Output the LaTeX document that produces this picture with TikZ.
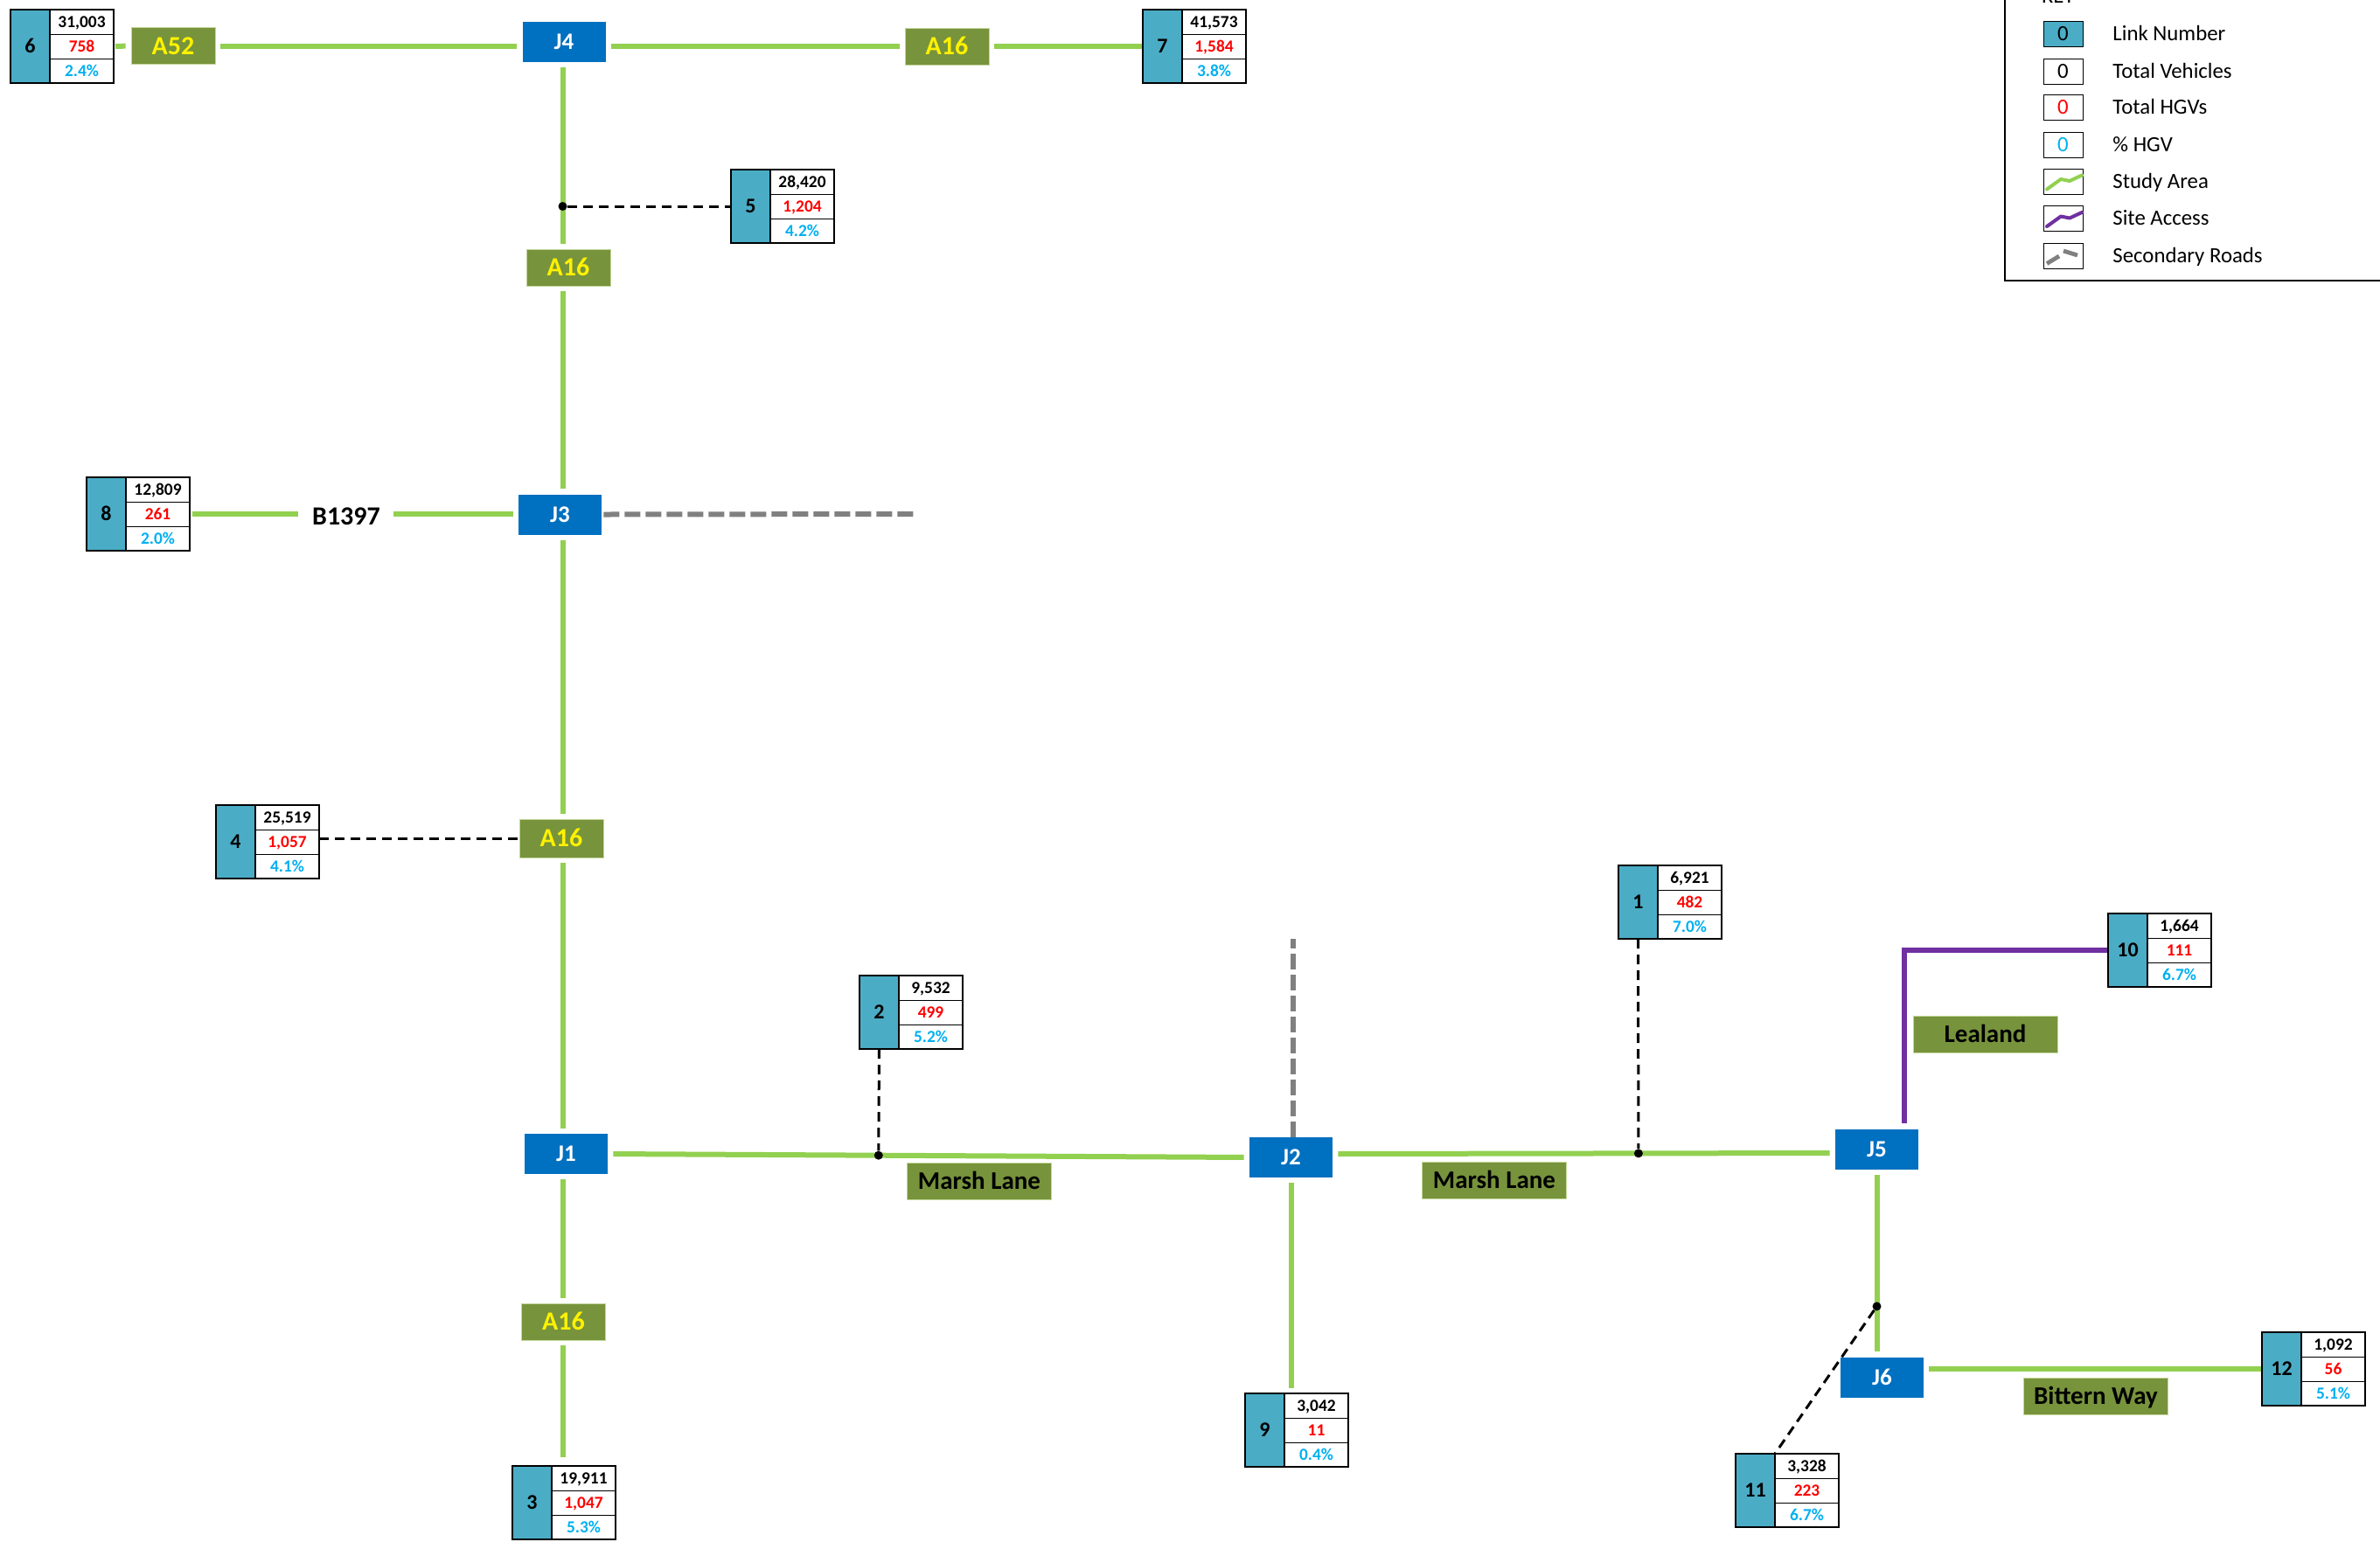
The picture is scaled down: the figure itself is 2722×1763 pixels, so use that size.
\documentclass[tikz,border=0pt]{standalone}
\usepackage{fontspec}
\setmainfont{Carlito}
\usetikzlibrary{calc}
\definecolor{linkblue}{HTML}{4BACC6}
\definecolor{jblue}{HTML}{0070C0}
\definecolor{labgreen}{HTML}{77933C}
\definecolor{roadgreen}{HTML}{92D050}
\definecolor{sitepurple}{HTML}{7030A0}
\definecolor{secgray}{HTML}{808080}
\definecolor{hgvred}{HTML}{FF0000}
\definecolor{pctblue}{HTML}{00B0F0}
\definecolor{labedge}{HTML}{C4D79B}
\newcommand\fsz[1]{\fontsize{#1}{#1}\selectfont}
\pgfdeclarelayer{bg}
\pgfsetlayers{bg,main}
\tikzset{
 lnk/.style={draw=black, line width=0.6pt, fill=linkblue, minimum width=22.5pt, minimum height=42pt, inner sep=0pt, outer sep=0pt, text height=7.6pt, text depth=0pt, font=\bfseries\fsz{12}},
 cell/.style={draw=black, line width=0.5pt, fill=white, minimum width=36.5pt, minimum height=14pt, inner sep=0pt, outer sep=0pt, text height=6.1pt, text depth=0pt, font=\bfseries\fsz{9.7}},
 junc/.style={fill=jblue, text=white, minimum width=47.5pt, minimum height=23pt, inner sep=0pt, text height=8.5pt, text depth=0pt, font=\bfseries\fsz{13.5}},
 alab/.style={fill=labgreen, draw=labedge, line width=0.4pt, text=yellow, minimum width=48pt, minimum height=21pt, inner sep=0pt, text height=9.5pt, text depth=0pt, font=\bfseries\fsz{15}},
 slab/.style={fill=labgreen, draw=labedge, line width=0.4pt, text=black, minimum width=82.5pt, minimum height=21pt, inner sep=0pt, text height=9.2pt, text depth=0pt, font=\bfseries\fsz{14.5}},
 road/.style={draw=roadgreen, line width=3pt, shorten <=3pt, shorten >=3pt},
 secroad/.style={draw=secgray, line width=3pt, dash pattern=on 9pt off 3pt},
 siteroad/.style={draw=sitepurple, line width=3pt},
 linkln/.style={draw=black, line width=1.5pt, dash pattern=on 5.5pt off 3.5pt},
 ldot/.style={circle, fill=black, inner sep=0pt, minimum size=5pt},
 keybox/.style={draw=black, line width=0.5pt, minimum width=22.5pt, minimum height=14.5pt, inner sep=0pt, text height=7.8pt, text depth=0pt, font=\fsz{12.4}},
 keytext/.style={anchor=west, inner sep=0pt, text height=7.8pt, text depth=0pt, font=\fsz{12.4}},
}
\newcommand\linkbox[7]{%
 \node[lnk, anchor=north west] (#1) at (#2,#3) {#4};
 \node[cell, anchor=north west] (#1t) at (#1.north east) {#5};
 \node[cell, anchor=north, text=hgvred] (#1h) at (#1t.south) {#6};
 \node[cell, anchor=north, text=pctblue] (#1p) at (#1h.south) {#7};
 \draw[line width=1pt] (#1.north west) rectangle (#1p.south east);
 \draw[line width=1pt] (#1.north east) -- (#1.south east);
}
\begin{document}
\begin{tikzpicture}[x=0.5pt, y=-0.5pt]
\useasboundingbox (0,0) rectangle (2722,1763);
\begin{pgfonlayer}{bg}
\fill[white] (0,0) rectangle (2722,1763);
\end{pgfonlayer}

% junctions
\node[junc] (J4) at (645,48) {J4};
\node[junc] (J3) at (640.5,588.5) {J3};
\node[junc] (J1) at (647.5,1320) {J1};
\node[junc] (J2) at (1476.5,1324) {J2};
\node[junc] (J5) at (2146.5,1315) {J5};
\node[junc] (J6) at (2152.5,1575.5) {J6};

% road labels
\node[alab] (a52) at (198,52.5) {A52};
\node[alab] (a16r) at (1083,53) {A16};
\node[alab] (a16u) at (650,306) {A16};
\node[alab, minimum height=22pt] (a16m) at (642,959) {A16};
\node[alab] (a16l) at (644.5,1512) {A16};
\node[slab] (ml1) at (1120,1351) {Marsh Lane};
\node[slab] (ml2) at (1709,1350) {Marsh Lane};
\node[slab] (lea) at (2270.5,1183) {Lealand};
\node[slab] (bit) at (2397,1597) {Bittern Way};
\node[font=\bfseries\fsz{15}, inner sep=0pt, text height=9.5pt, text depth=0pt] (b1397) at (396,591) {B1397};

% link boxes
\linkbox{b6}{12}{11}{6}{31,003}{758}{2.4\%}
\linkbox{b7}{1307}{11}{7}{41,573}{1,584}{3.8\%}
\linkbox{b5}{836}{194}{5}{28,420}{1,204}{4.2\%}
\linkbox{b8}{99}{546}{8}{12,809}{261}{2.0\%}
\linkbox{b4}{247}{921}{4}{25,519}{1,057}{4.1\%}
\linkbox{b3}{586}{1677}{3}{19,911}{1,047}{5.3\%}
\linkbox{b2}{983}{1116}{2}{9,532}{499}{5.2\%}
\linkbox{b9}{1424}{1594}{9}{3,042}{11}{0.4\%}
\linkbox{b1}{1851}{990}{1}{6,921}{482}{7.0\%}
\linkbox{b10}{2411}{1045}{10}{1,664}{111}{6.7\%}
\linkbox{b11}{1985}{1663}{11}{3,328}{223}{6.7\%}
\linkbox{b12}{2587}{1524}{12}{1,092}{56}{5.1\%}

\coordinate (ax) at (643.5,0);
\coordinate (g3) at (1049,588);
\coordinate (g2) at (1479,1074);

% dots
\node[ldot] (d5) at ($(J4.south -| ax)!(b5.west)!(a16u.north -| ax)$) {};
\node[ldot] (d2) at ($(J1.east)!(b2.south)!(J2.west)$) {};
\node[ldot] (d1) at ($([yshift=2pt]J2.east)!(b1.south)!([yshift=-2pt]J5.west)$) {};
\node[ldot] (d11) at ($(J5.south)!0.73!(J5.south |- J6.north)$) {};

\begin{pgfonlayer}{bg}
% main A16 spine
\draw[road] (J4.south -| ax) -- (a16u.north -| ax);
\draw[road] (a16u.south -| ax) -- (J3.north -| ax);
\draw[road] (J3.south -| ax) -- (a16m.north -| ax);
\draw[road] (a16m.south -| ax) -- (J1.north -| ax);
\draw[road] (J1.south -| ax) -- (a16l.north -| ax);
\draw[road, shorten >=5pt] (a16l.south -| ax) -- (b3t.north -| ax);
% top road
\draw[road, shorten <=1pt] (b6h.east) -- (a52.west);
\draw[road] (a52.east) -- (J4.west |- a52.east);
\draw[road] (J4.east |- a16r.west) -- (a16r.west);
\draw[road, shorten >=1pt] (a16r.east) -- (b7h.west);
% B1397
\draw[road, shorten <=1.5pt, shorten >=8pt] (b8h.east) -- (b8h.east -| b1397.west);
\draw[road, shorten <=7.5pt] (b1397.east |- b8h.east) -- (J3.west |- b8h.east);
\draw[secroad] ([xshift=1pt]J3.east) -- (g3);
% Marsh Lane
\draw[road] (J1.east) -- (J2.west);
\draw[road] ([yshift=2pt]J2.east) -- ([yshift=-2pt]J5.west);
\draw[secroad] (J2.north -| g2) -- (g2);
\draw[road] (J2.south) -- (J2.south |- b9t.north);
% J5 / J6
\draw[road] (J5.south) -- (J5.south |- J6.north);
\draw[road, shorten >=0pt] (J6.east |- b12h.west) -- (b12h.west);
\draw[siteroad, shorten <=3.5pt] ([xshift=15.75pt]J5.north) |- (b10h.west);
% link connectors
\draw[linkln] (d5) -- (b5.west);
\draw[linkln] (a16m.west -| b4h.east) -- (a16m.west);
\draw[linkln] (b2.south) -- (d2);
\draw[linkln] (b1.south) -- (d1);
\draw[linkln] (d11) -- (b11.north east);
\end{pgfonlayer}

% legend
\draw[line width=0.6pt] (2293,0) |- (2722,321);
\node[anchor=base west, inner sep=0pt, font=\fsz{12.4}] (key) at (2335,3) {KEY};
\node[keybox, fill=linkblue] (k1) at (2359.5,38.5) {0};
\node[keybox] (k2) at (2359.5,81.5) {0};
\node[keybox, text=hgvred] (k3) at (2359.5,123) {0};
\node[keybox, text=pctblue] (k4) at (2359.5,165.5) {0};
\node[keybox] (k5) at (2359.5,207.5) {};
\node[keybox] (k6) at (2359.5,250) {};
\node[keybox] (k7) at (2359.5,292.5) {};
\node[keytext] (t1) at (2416,38.5) {Link Number};
\node[keytext] (t2) at (2416,81.5) {Total Vehicles};
\node[keytext] (t3) at (2416,123) {Total HGVs};
\node[keytext] (t4) at (2416,165.5) {\% HGV};
\node[keytext] (t5) at (2416,207.5) {Study Area};
\node[keytext] (t6) at (2416,250) {Site Access};
\node[keytext] (t7) at (2416,292.5) {Secondary Roads};
\draw[roadgreen, line width=2pt, line join=round, line cap=round] (2341,216.5) -- (2357,205) -- (2367,207) -- (2381,200.5);
\draw[sitepurple, line width=2pt, line join=round, line cap=round] (2341,259) -- (2357,247.5) -- (2367,249.5) -- (2381,243);
\draw[secgray, line width=2.4pt] (2341,301.5) -- (2355,293);
\draw[secgray, line width=2.4pt] (2360,287) -- (2376,292);
\end{tikzpicture}
\end{document}
